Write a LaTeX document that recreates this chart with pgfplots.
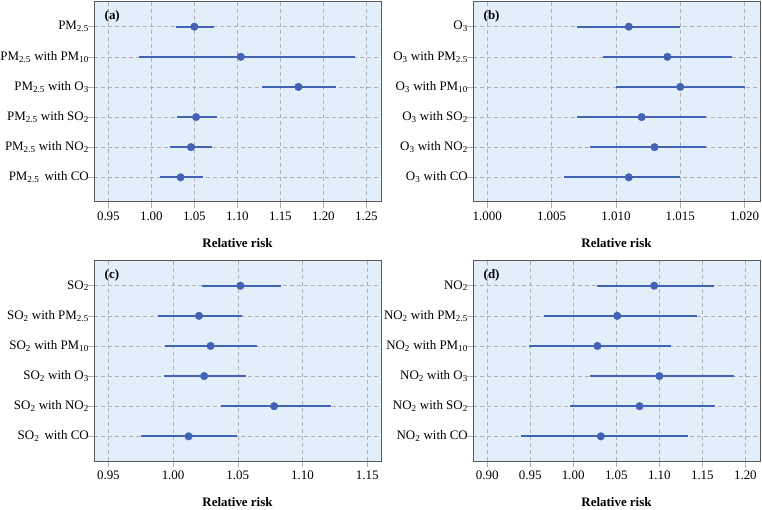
\documentclass[border=0pt]{standalone}
\usepackage{fontspec}
\setmainfont{Liberation Serif}
\usepackage{pgfplots}
\usepackage{pgfplotstable}
\pgfplotsset{compat=1.18}
\definecolor{bgblue}{HTML}{E3EEFB}
\definecolor{ciblue}{HTML}{4262B4}
\definecolor{framegray}{HTML}{5A5A5A}
\definecolor{gridgray}{HTML}{B0B0B0}
\newcommand{\sub}[1]{\textsubscript{#1}}

\pgfplotstableread{
row rr lo hi
1 1.050 1.029 1.073
2 1.104 0.986 1.237
3 1.171 1.129 1.215
4 1.052 1.030 1.076
5 1.046 1.022 1.070
6 1.034 1.010 1.060
}\tableA
\pgfplotstableread{
row rr lo hi
1 1.011 1.007 1.015
2 1.014 1.009 1.019
3 1.015 1.010 1.020
4 1.012 1.007 1.017
5 1.013 1.008 1.017
6 1.011 1.006 1.015
}\tableB
\pgfplotstableread{
row rr lo hi
1 1.052 1.022 1.083
2 1.020 0.988 1.053
3 1.029 0.994 1.065
4 1.024 0.993 1.056
5 1.078 1.037 1.122
6 1.012 0.975 1.049
}\tableC
\pgfplotstableread{
row rr lo hi
1 1.094 1.028 1.164
2 1.051 0.966 1.144
3 1.028 0.949 1.114
4 1.100 1.019 1.187
5 1.077 0.996 1.165
6 1.032 0.939 1.133
}\tableD

\pgfplotsset{
 forest/.style={
  scale only axis, width=287bp, height=200bp,
  anchor=south west,
  axis background/.style={fill=bgblue},
  axis line style={framegray, line width=1bp},
  y dir=reverse, ymin=0.18, ymax=6.82, ytick={1,2,3,4,5,6},
  xmajorgrids, ymajorgrids,
  grid style={gridgray, dash pattern=on 4bp off 3bp, line width=0.6bp},
  tick align=outside, major tick length=6bp,
  tick style={gridgray, line width=0.6bp},
  xtick pos=left, ytick pos=left,
  tick label style={font=\fontsize{13}{15}\selectfont},
  y tick label style={xshift=2.5bp, inner sep=1.5bp},
  /pgf/number format/assume math mode=true,
  x tick label style={/pgf/number format/.cd, fixed, fixed zerofill, precision=2},
  xlabel={Relative risk},
  xlabel style={font=\bfseries\fontsize{13}{15}\selectfont, at={(axis description cs:0.5,0)}, anchor=center, yshift=-41bp},
 },
 ci/.style={ciblue, only marks, mark=*, mark size=3.8bp, mark options={fill=ciblue, draw=ciblue},
  error bars/.cd, x dir=both, x explicit, error mark=none,
  error bar style={line width=2bp, ciblue}},
}
\newcommand{\panellabel}[1]{\node[anchor=west, font=\bfseries\fontsize{13}{15}\selectfont] at (axis description cs:0.025,0.93) {#1};}
\newcommand{\ciplot}[1]{\addplot[ci] table[x=rr, y=row, x error plus expr=\thisrow{hi}-\thisrow{rr}, x error minus expr=\thisrow{rr}-\thisrow{lo}] {#1};}

\begin{document}
\begin{tikzpicture}
\useasboundingbox (0,0) rectangle (762bp,510bp);
% (a)
\begin{axis}[forest, at={(94bp,308bp)},
  xmin=0.9333, xmax=1.267, xtick={0.95,1.00,1.05,1.10,1.15,1.20,1.25},
  yticklabels={PM\sub{2.5}, PM\sub{2.5} with PM\sub{10}, PM\sub{2.5} with O\sub{3}, PM\sub{2.5} with SO\sub{2}, PM\sub{2.5} with NO\sub{2}, PM\sub{2.5}\hspace{2pt} with CO}]
\ciplot{\tableA}
\panellabel{(a)}
\end{axis}
% (b)
\begin{axis}[forest, at={(473bp,308bp)},
  xmin=0.99889, xmax=1.0212, xtick={1.000,1.005,1.010,1.015,1.020},
  x tick label style={/pgf/number format/.cd, fixed, fixed zerofill, precision=3},
  yticklabels={O\sub{3}, O\sub{3} with PM\sub{2.5}, O\sub{3} with PM\sub{10}, O\sub{3} with SO\sub{2}, O\sub{3} with NO\sub{2}, O\sub{3} with CO}]
\ciplot{\tableB}
\panellabel{(b)}
\end{axis}
% (c)
\begin{axis}[forest, at={(94bp,49bp)},
  xmin=0.9389, xmax=1.1606, xtick={0.95,1.00,1.05,1.10,1.15},
  yticklabels={SO\sub{2}, SO\sub{2} with PM\sub{2.5}, SO\sub{2} with PM\sub{10}, SO\sub{2} with O\sub{3}, SO\sub{2} with NO\sub{2}, SO\sub{2}\hspace{2pt} with CO}]
\ciplot{\tableC}
\panellabel{(c)}
\end{axis}
% (d)
\begin{axis}[forest, at={(473bp,49bp)},
  xmin=0.8834, xmax=1.217, xtick={0.90,0.95,1.00,1.05,1.10,1.15,1.20},
  yticklabels={NO\sub{2}, NO\sub{2} with PM\sub{2.5}, NO\sub{2} with PM\sub{10}, NO\sub{2} with O\sub{3}, NO\sub{2} with SO\sub{2}, NO\sub{2} with CO}]
\ciplot{\tableD}
\panellabel{(d)}
\end{axis}
\end{tikzpicture}
\end{document}
